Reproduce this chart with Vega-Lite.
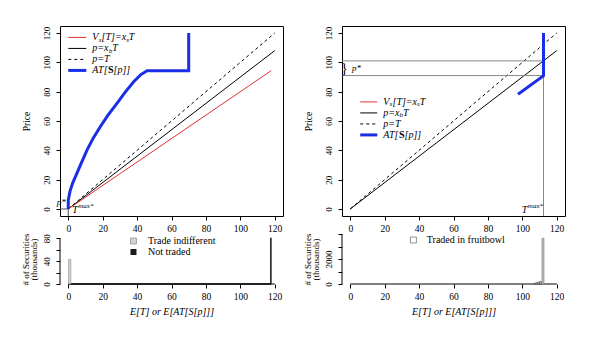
{
  "$schema": "https://vega.github.io/schema/vega-lite/v6.json",
  "padding": {"left": 20, "top": 25, "right": 0, "bottom": 0},
  "bounds": "flush",
  "columns": 2,
  "spacing": {"row": 18, "column": 59},
  "resolve": {"scale": {"x": "independent", "y": "independent"}},
  "config": {
    "font": "Liberation Serif, DejaVu Serif, serif",
    "view": {"stroke": null},
    "axis": {"grid": false, "domain": false, "labelColor": "black", "tickColor": "black", "titleColor": "black", "labelFont": "Liberation Serif, DejaVu Serif, serif", "titleFont": "Liberation Serif, DejaVu Serif, serif", "titleFontWeight": "normal", "labelFlush": false, "labelOverlap": false},
    "text": {"font": "Liberation Serif, DejaVu Serif, serif", "color": "black"}
  },
  "concat": [
    {
      "width": 223, "height": 190,
      "view": {"stroke": "black", "strokeWidth": 1},
      "encoding": {
        "x": {"field": "T", "type": "quantitative", "scale": {"domain": [-4.8, 124.8], "nice": false, "zero": false},
              "axis": {"values": [0, 20, 40, 60, 80, 100, 120], "tickSize": 4, "labelFontSize": 9.5, "labelPadding": 3, "title": null}},
        "y": {"field": "p", "type": "quantitative", "scale": {"domain": [-4.8, 124.8], "nice": false, "zero": false},
              "axis": {"values": [0, 20, 40, 60, 80, 100, 120], "tickSize": 4, "labelAngle": -90, "labelAlign": "center", "labelBaseline": "bottom", "labelPadding": 5, "labelFontSize": 9, "title": "Price", "titleFontSize": 9.5, "titlePadding": 11}}
      },
      "layer": [
        {"data": {"values": [{"T": 0, "p": 0}, {"T": 120, "p": 120}]}, "mark": {"type": "line", "color": "black", "strokeWidth": 1, "strokeDash": [3, 3]}, "encoding": {}},
        {"data": {"values": [{"T": 0, "p": 0}, {"T": 120, "p": 108}]}, "mark": {"type": "line", "color": "black", "strokeWidth": 1}, "encoding": {}},
        {"data": {"values": [{"T": 0, "p": 0}, {"T": 118, "p": 94.4}]}, "mark": {"type": "line", "color": "#e03030", "strokeWidth": 1}, "encoding": {}},
        {"data": {"values": [{"T": -4.8, "T2": 0, "p": 0, "p2": 0}, {"T": 0, "T2": 0, "p": -4.8, "p2": 0}]}, "mark": {"type": "rule", "color": "#555", "strokeWidth": 1}, "encoding": {"x2": {"field": "T2"}, "y2": {"field": "p2"}}},
        {"data": {"values": [
          {"i": 0, "T": 0, "p": 0}, {"i": 1, "T": 0, "p": 6}, {"i": 2, "T": 1, "p": 12}, {"i": 3, "T": 2.5, "p": 17.5},
          {"i": 4, "T": 5, "p": 24.3}, {"i": 5, "T": 8, "p": 32.5}, {"i": 6, "T": 10.9, "p": 40.2}, {"i": 7, "T": 14.5, "p": 48.3},
          {"i": 8, "T": 18.6, "p": 56.1}, {"i": 9, "T": 23, "p": 63.8}, {"i": 10, "T": 28.3, "p": 72}, {"i": 11, "T": 33, "p": 79.5},
          {"i": 12, "T": 38, "p": 86.8}, {"i": 13, "T": 42, "p": 91.5}, {"i": 14, "T": 45.8, "p": 94.3}, {"i": 15, "T": 70, "p": 94.3},
          {"i": 16, "T": 70, "p": 120}]}, "mark": {"type": "line", "color": "#1a2ee8", "strokeWidth": 3}, "encoding": {"order": {"field": "i", "type": "quantitative"}}},
        {"data": {"values": [{"T": 0, "T2": 10.5, "p": 117}]}, "mark": {"type": "rule", "color": "#e03030", "strokeWidth": 1}, "encoding": {"x2": {"field": "T2"}}},
        {"data": {"values": [{"T": 0, "T2": 10.5, "p": 109.5}]}, "mark": {"type": "rule", "color": "black", "strokeWidth": 1}, "encoding": {"x2": {"field": "T2"}}},
        {"data": {"values": [{"T": 0, "T2": 10.5, "p": 102}]}, "mark": {"type": "rule", "color": "black", "strokeWidth": 1, "strokeDash": [3, 3]}, "encoding": {"x2": {"field": "T2"}}},
        {"data": {"values": [{"T": 0, "T2": 10.5, "p": 94.5}]}, "mark": {"type": "rule", "color": "#1a2ee8", "strokeWidth": 3}, "encoding": {"x2": {"field": "T2"}}},
        {"data": {"values": [{"T": 14, "p": 117, "t": "V"}, {"T": 14, "p": 109.5, "t": "p=x"}, {"T": 14, "p": 102, "t": "p=T"}, {"T": 14, "p": 94.5, "t": "AT["}]},
         "mark": {"type": "text", "align": "left", "baseline": "middle", "fontSize": 10, "fontStyle": "italic"}, "encoding": {"text": {"field": "t"}}},
        {"data": {"values": [{"T": 14, "p": 117, "t": "s"}]}, "mark": {"type": "text", "align": "left", "baseline": "middle", "fontSize": 7, "fontStyle": "italic", "dx": 6.3, "dy": 2.5}, "encoding": {"text": {"field": "t"}}},
        {"data": {"values": [{"T": 14, "p": 117, "t": "[T]=x"}]}, "mark": {"type": "text", "align": "left", "baseline": "middle", "fontSize": 10, "fontStyle": "italic", "dx": 9.2}, "encoding": {"text": {"field": "t"}}},
        {"data": {"values": [{"T": 14, "p": 117, "t": "s"}]}, "mark": {"type": "text", "align": "left", "baseline": "middle", "fontSize": 7, "fontStyle": "italic", "dx": 33.8, "dy": 2.5}, "encoding": {"text": {"field": "t"}}},
        {"data": {"values": [{"T": 14, "p": 117, "t": "T"}]}, "mark": {"type": "text", "align": "left", "baseline": "middle", "fontSize": 10, "fontStyle": "italic", "dx": 36.5}, "encoding": {"text": {"field": "t"}}},
        {"data": {"values": [{"T": 14, "p": 109.5, "t": "b"}]}, "mark": {"type": "text", "align": "left", "baseline": "middle", "fontSize": 7, "fontStyle": "italic", "dx": 16.3, "dy": 2.5}, "encoding": {"text": {"field": "t"}}},
        {"data": {"values": [{"T": 14, "p": 109.5, "t": "T"}]}, "mark": {"type": "text", "align": "left", "baseline": "middle", "fontSize": 10, "fontStyle": "italic", "dx": 19.8}, "encoding": {"text": {"field": "t"}}},
        {"data": {"values": [{"T": 14, "p": 94.5, "t": "S"}]}, "mark": {"type": "text", "align": "left", "baseline": "middle", "fontSize": 10, "fontWeight": "bold", "dx": 15.6}, "encoding": {"text": {"field": "t"}}},
        {"data": {"values": [{"T": 14, "p": 94.5, "t": "[p]]"}]}, "mark": {"type": "text", "align": "left", "baseline": "middle", "fontSize": 10, "fontStyle": "italic", "dx": 21.2}, "encoding": {"text": {"field": "t"}}},
        {"data": {"values": [{"T": -1.5, "p": 4.5, "t": "p*"}]}, "mark": {"type": "text", "align": "right", "baseline": "middle", "fontSize": 9, "fontStyle": "italic"}, "encoding": {"text": {"field": "t"}}},
        {"data": {"values": [{"T": 2.3, "p": -0.5, "t": "T"}]}, "mark": {"type": "text", "align": "left", "baseline": "middle", "fontSize": 10, "fontStyle": "italic"}, "encoding": {"text": {"field": "t"}}},
        {"data": {"values": [{"T": 5.8, "p": 2.2, "t": "max*"}]}, "mark": {"type": "text", "align": "left", "baseline": "middle", "fontSize": 7, "fontStyle": "italic"}, "encoding": {"text": {"field": "t"}}}
      ]
    },
    {
      "width": 223, "height": 190,
      "view": {"stroke": "black", "strokeWidth": 1},
      "encoding": {
        "x": {"field": "T", "type": "quantitative", "scale": {"domain": [-4.8, 124.8], "nice": false, "zero": false},
              "axis": {"values": [0, 20, 40, 60, 80, 100, 120], "tickSize": 4, "labelFontSize": 9.5, "labelPadding": 3, "title": null}},
        "y": {"field": "p", "type": "quantitative", "scale": {"domain": [-4.8, 124.8], "nice": false, "zero": false},
              "axis": {"values": [0, 20, 40, 60, 80, 100, 120], "tickSize": 4, "labelAngle": -90, "labelAlign": "center", "labelBaseline": "bottom", "labelPadding": 5, "labelFontSize": 9, "title": "Price", "titleFontSize": 9.5, "titlePadding": 11}}
      },
      "layer": [
        {"data": {"values": [{"T": 0, "p": 0}, {"T": 120, "p": 120}]}, "mark": {"type": "line", "color": "black", "strokeWidth": 1, "strokeDash": [3, 3]}, "encoding": {}},
        {"data": {"values": [{"T": 0, "p": 0}, {"T": 120, "p": 108}]}, "mark": {"type": "line", "color": "black", "strokeWidth": 1}, "encoding": {}},
        {"data": {"values": [{"T": -4.8, "T2": 112.3, "p": 101, "p2": 101}, {"T": -4.8, "T2": 112.3, "p": 91, "p2": 91}, {"T": 112.3, "T2": 112.3, "p": -4.8, "p2": 91}]}, "mark": {"type": "rule", "color": "#888", "strokeWidth": 1}, "encoding": {"x2": {"field": "T2"}, "y2": {"field": "p2"}}},
        {"data": {"values": [{"T": 103, "p": 83.5}, {"T": 112.3, "p": 91.2}]}, "mark": {"type": "line", "color": "#e03030", "strokeWidth": 1.2}, "encoding": {}},
        {"data": {"values": [{"i": 0, "T": 97.5, "p": 78.2}, {"i": 1, "T": 112.3, "p": 90.8}, {"i": 2, "T": 112.3, "p": 120}]}, "mark": {"type": "line", "color": "#1a2ee8", "strokeWidth": 3}, "encoding": {"order": {"field": "i", "type": "quantitative"}}},
        {"data": {"values": [{"T": 5.8, "T2": 15.7, "p": 73}]}, "mark": {"type": "rule", "color": "#e03030", "strokeWidth": 1}, "encoding": {"x2": {"field": "T2"}}},
        {"data": {"values": [{"T": 5.8, "T2": 15.7, "p": 65.5}]}, "mark": {"type": "rule", "color": "black", "strokeWidth": 1}, "encoding": {"x2": {"field": "T2"}}},
        {"data": {"values": [{"T": 5.8, "T2": 15.7, "p": 58}]}, "mark": {"type": "rule", "color": "black", "strokeWidth": 1, "strokeDash": [3, 3]}, "encoding": {"x2": {"field": "T2"}}},
        {"data": {"values": [{"T": 5.8, "T2": 15.7, "p": 50.5}]}, "mark": {"type": "rule", "color": "#1a2ee8", "strokeWidth": 3}, "encoding": {"x2": {"field": "T2"}}},
        {"data": {"values": [{"T": 19.2, "p": 73, "t": "V"}, {"T": 19.2, "p": 65.5, "t": "p=x"}, {"T": 19.2, "p": 58, "t": "p=T"}, {"T": 19.2, "p": 50.5, "t": "AT["}]},
         "mark": {"type": "text", "align": "left", "baseline": "middle", "fontSize": 10, "fontStyle": "italic"}, "encoding": {"text": {"field": "t"}}},
        {"data": {"values": [{"T": 19.2, "p": 73, "t": "s"}]}, "mark": {"type": "text", "align": "left", "baseline": "middle", "fontSize": 7, "fontStyle": "italic", "dx": 6.3, "dy": 2.5}, "encoding": {"text": {"field": "t"}}},
        {"data": {"values": [{"T": 19.2, "p": 73, "t": "[T]=x"}]}, "mark": {"type": "text", "align": "left", "baseline": "middle", "fontSize": 10, "fontStyle": "italic", "dx": 9.2}, "encoding": {"text": {"field": "t"}}},
        {"data": {"values": [{"T": 19.2, "p": 73, "t": "s"}]}, "mark": {"type": "text", "align": "left", "baseline": "middle", "fontSize": 7, "fontStyle": "italic", "dx": 33.8, "dy": 2.5}, "encoding": {"text": {"field": "t"}}},
        {"data": {"values": [{"T": 19.2, "p": 73, "t": "T"}]}, "mark": {"type": "text", "align": "left", "baseline": "middle", "fontSize": 10, "fontStyle": "italic", "dx": 36.5}, "encoding": {"text": {"field": "t"}}},
        {"data": {"values": [{"T": 19.2, "p": 65.5, "t": "b"}]}, "mark": {"type": "text", "align": "left", "baseline": "middle", "fontSize": 7, "fontStyle": "italic", "dx": 16.3, "dy": 2.5}, "encoding": {"text": {"field": "t"}}},
        {"data": {"values": [{"T": 19.2, "p": 65.5, "t": "T"}]}, "mark": {"type": "text", "align": "left", "baseline": "middle", "fontSize": 10, "fontStyle": "italic", "dx": 19.8}, "encoding": {"text": {"field": "t"}}},
        {"data": {"values": [{"T": 19.2, "p": 50.5, "t": "S"}]}, "mark": {"type": "text", "align": "left", "baseline": "middle", "fontSize": 10, "fontWeight": "bold", "dx": 15.6}, "encoding": {"text": {"field": "t"}}},
        {"data": {"values": [{"T": 19.2, "p": 50.5, "t": "[p]]"}]}, "mark": {"type": "text", "align": "left", "baseline": "middle", "fontSize": 10, "fontStyle": "italic", "dx": 21.2}, "encoding": {"text": {"field": "t"}}},
        {"data": {"values": [{"T": -3.5, "p": 95.6, "t": "}"}]}, "mark": {"type": "text", "align": "center", "baseline": "middle", "fontSize": 14}, "encoding": {"text": {"field": "t"}}},
        {"data": {"values": [{"T": 1, "p": 96.3, "t": "p*"}]}, "mark": {"type": "text", "align": "left", "baseline": "middle", "fontSize": 9, "fontStyle": "italic"}, "encoding": {"text": {"field": "t"}}},
        {"data": {"values": [{"T": 99.6, "p": -1, "t": "T"}]}, "mark": {"type": "text", "align": "left", "baseline": "middle", "fontSize": 10, "fontStyle": "italic"}, "encoding": {"text": {"field": "t"}}},
        {"data": {"values": [{"T": 103.2, "p": 1.9, "t": "max*"}]}, "mark": {"type": "text", "align": "left", "baseline": "middle", "fontSize": 7, "fontStyle": "italic"}, "encoding": {"text": {"field": "t"}}}
      ]
    },
    {
      "width": 223, "height": 50,
      "encoding": {
        "x": {"field": "T", "type": "quantitative", "scale": {"domain": [-4.8, 124.8], "nice": false, "zero": false},
              "axis": {"values": [0, 20, 40, 60, 80, 100, 120], "tickSize": 4, "labelFontSize": 9.5, "labelPadding": 3, "title": "E[T] or E[AT[S[p]]]", "titleFontSize": 10, "titleFontStyle": "italic", "titlePadding": 6}},
        "y": {"field": "n", "type": "quantitative", "scale": {"domain": [0, 87.5], "nice": false, "zero": false},
              "axis": {"values": [0, 20, 40, 60, 80], "labelExpr": "datum.value % 40 === 0 ? datum.label : ''", "tickSize": 4, "labelAngle": -90, "labelAlign": "center", "labelBaseline": "bottom", "labelPadding": 5, "labelFontSize": 9, "title": ["# of Securities", "(thousands)"], "titleFontSize": 9, "titleLineHeight": 7.5, "titlePadding": 4}}
      },
      "layer": [
        {"data": {"values": [{"T": 0, "T2": 120, "n": 0, "n2": 0}, {"T": -4.8, "T2": -4.8, "n": 0, "n2": 80}]}, "mark": {"type": "rule", "color": "black", "strokeWidth": 1}, "encoding": {"x2": {"field": "T2"}, "y2": {"field": "n2"}}},
        {"data": {"values": [{"T": 0.2, "T2": 118, "n": 0, "n2": 0}]}, "mark": {"type": "rule", "color": "#222", "strokeWidth": 1.8}, "encoding": {"x2": {"field": "T2"}, "y2": {"field": "n2"}}},
        {"data": {"values": [{"T": 0.2, "T2": 1.5, "n": 43}]}, "mark": {"type": "bar", "fill": "#d4d4d4", "stroke": "#8a8a8a", "strokeWidth": 0.6}, "encoding": {"x2": {"field": "T2"}, "y2": {"datum": 0}}},
        {"data": {"values": [{"T": 117.3, "T2": 118.2, "n": 81}]}, "mark": {"type": "bar", "fill": "#1a1a1a"}, "encoding": {"x2": {"field": "T2"}, "y2": {"datum": 0}}},
        {"data": {"values": [{"T": 37.9, "n": 75.2}]}, "mark": {"type": "square", "size": 36, "filled": true, "fill": "#d4d4d4", "stroke": "#777", "strokeWidth": 0.6, "opacity": 1}, "encoding": {}},
        {"data": {"values": [{"T": 37.9, "n": 56}]}, "mark": {"type": "square", "size": 36, "filled": true, "fill": "#1a1a1a", "opacity": 1}, "encoding": {}},
        {"data": {"values": [{"T": 46.3, "n": 75.2, "t": "Trade indifferent"}, {"T": 46.3, "n": 56, "t": "Not traded"}]}, "mark": {"type": "text", "align": "left", "baseline": "middle", "fontSize": 10}, "encoding": {"text": {"field": "t"}}}
      ]
    },
    {
      "width": 223, "height": 50,
      "encoding": {
        "x": {"field": "T", "type": "quantitative", "scale": {"domain": [-4.8, 124.8], "nice": false, "zero": false},
              "axis": {"values": [0, 20, 40, 60, 80, 100, 120], "tickSize": 4, "labelFontSize": 9.5, "labelPadding": 3, "title": "E[T] or E[AT[S[p]]]", "titleFontSize": 10, "titleFontStyle": "italic", "titlePadding": 6}},
        "y": {"field": "n", "type": "quantitative", "scale": {"domain": [0, 4000], "nice": false, "zero": false},
              "axis": {"values": [0, 1000, 2000, 3000, 4000], "format": "d", "labelExpr": "datum.value === 0 || datum.value === 2000 ? datum.label : ''", "tickSize": 4, "labelAngle": -90, "labelAlign": "center", "labelBaseline": "bottom", "labelPadding": 5, "labelFontSize": 9, "title": ["# of Securities", "(thousands)"], "titleFontSize": 9, "titleLineHeight": 7.5, "titlePadding": 4}}
      },
      "layer": [
        {"data": {"values": [{"T": 0, "T2": 120, "n": 0, "n2": 0}, {"T": -4.8, "T2": -4.8, "n": 0, "n2": 4000}]}, "mark": {"type": "rule", "color": "black", "strokeWidth": 1}, "encoding": {"x2": {"field": "T2"}, "y2": {"field": "n2"}}},
        {"data": {"values": [{"T": 106.8, "T2": 107.9, "n": 60}, {"T": 107.9, "T2": 109, "n": 100}, {"T": 109, "T2": 110.1, "n": 150}, {"T": 110.1, "T2": 111.3, "n": 200}]}, "mark": {"type": "bar", "fill": "#bdbdbd", "stroke": "#444", "strokeWidth": 0.6}, "encoding": {"x2": {"field": "T2"}, "y2": {"datum": 0}}},
        {"data": {"values": [{"T": 111.4, "T2": 112.6, "n": 3656}]}, "mark": {"type": "bar", "fill": "#bdbdbd", "stroke": "#7a7a7a", "strokeWidth": 0.6}, "encoding": {"x2": {"field": "T2"}, "y2": {"datum": 0}}},
        {"data": {"values": [{"T": 36.7, "n": 3520}]}, "mark": {"type": "square", "size": 36, "filled": true, "fill": "white", "stroke": "#777", "strokeWidth": 0.8, "opacity": 1}, "encoding": {}},
        {"data": {"values": [{"T": 44.5, "n": 3520, "t": "Traded in fruitbowl"}]}, "mark": {"type": "text", "align": "left", "baseline": "middle", "fontSize": 10}, "encoding": {"text": {"field": "t"}}}
      ]
    }
  ]
}
